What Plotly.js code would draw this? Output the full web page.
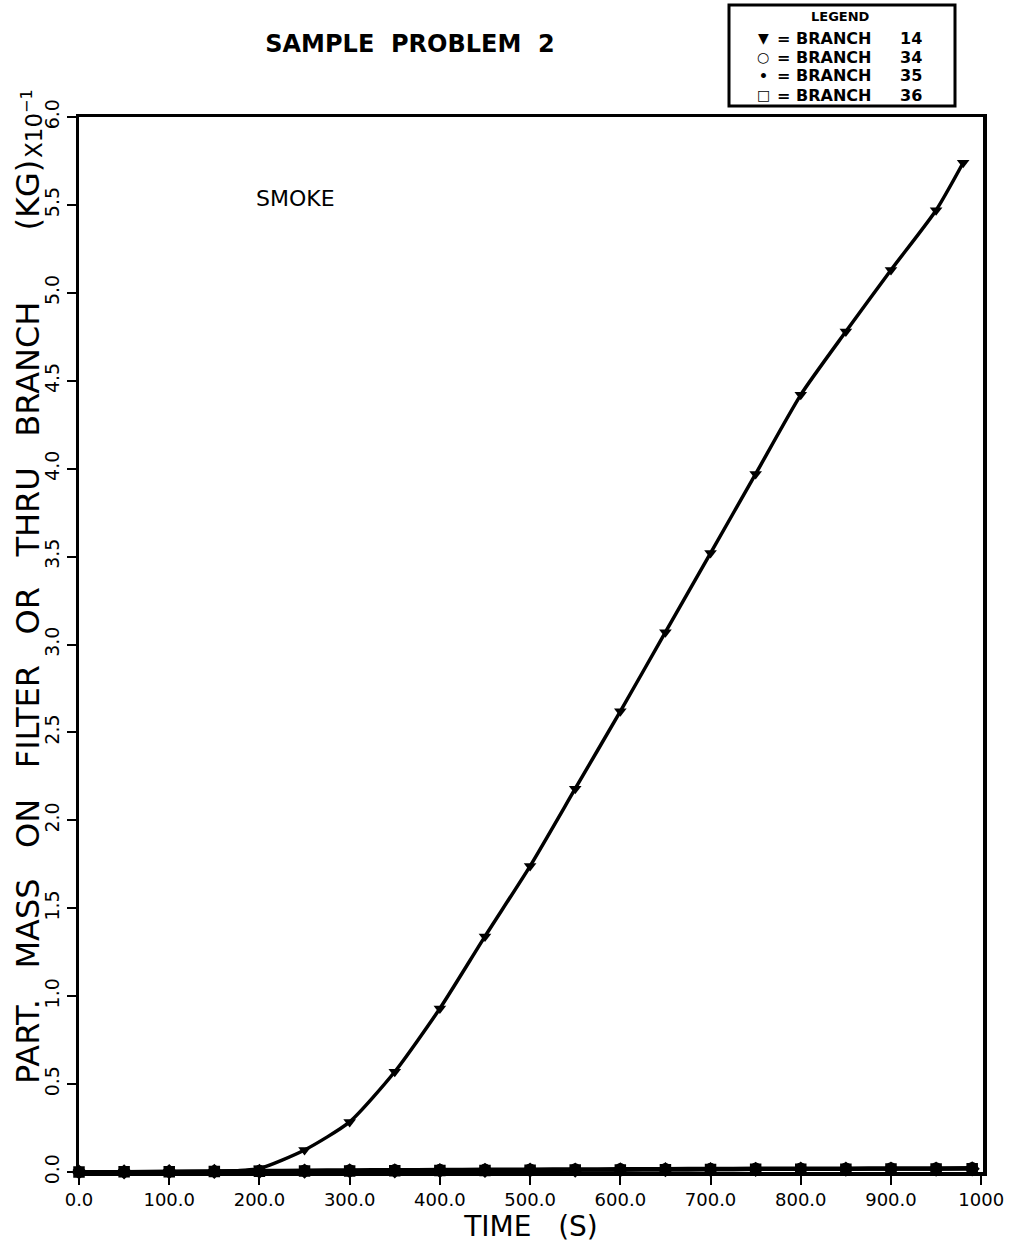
<!DOCTYPE html>
<html>
<head>
<meta charset="utf-8">
<script src="https://cdn.plot.ly/plotly-3.0.1.min.js"></script>
<style>html,body{margin:0;padding:0;background:#fff;}#chart{width:1014px;height:1243px;}</style>
</head>
<body>
<div id="chart"></div>
<script>
// Time (s) at which markers are plotted
var time14 = [0, 50, 100, 150, 200, 250, 300, 350, 400, 450, 500, 550, 600, 650, 700, 750, 800, 850, 900, 950, 980];
// Particulate mass (x10^-1 kg), branch 14
var mass14 = [0, 0, 0, 0, 0.02, 0.125, 0.285, 0.57, 0.93, 1.34, 1.74, 2.18, 2.62, 3.07, 3.52, 3.97, 4.42, 4.78, 5.13, 5.47, 5.74];

var timeLow = [0, 50, 100, 150, 200, 250, 300, 350, 400, 450, 500, 550, 600, 650, 700, 750, 800, 850, 900, 950, 990];
var mass34 = [0, 0.002, 0.004, 0.006, 0.008, 0.01, 0.012, 0.013, 0.014, 0.015, 0.016, 0.017, 0.018, 0.019, 0.02, 0.021, 0.022, 0.022, 0.023, 0.023, 0.024];
var mass35 = [0, 0.001, 0.002, 0.003, 0.004, 0.005, 0.006, 0.007, 0.008, 0.009, 0.01, 0.011, 0.012, 0.013, 0.014, 0.015, 0.016, 0.016, 0.017, 0.017, 0.018];
var mass36 = [0, 0.001, 0.002, 0.003, 0.004, 0.005, 0.006, 0.007, 0.008, 0.009, 0.01, 0.011, 0.012, 0.013, 0.014, 0.015, 0.016, 0.016, 0.017, 0.017, 0.018];

var xTickVals = [0, 100, 200, 300, 400, 500, 600, 700, 800, 900, 1000];
var xTickText = ["0.0", "100.0", "200.0", "300.0", "400.0", "500.0", "600.0", "700.0", "800.0", "900.0", "1000"];
var yTickVals = [0, 0.5, 1, 1.5, 2, 2.5, 3, 3.5, 4, 4.5, 5, 5.5, 6];
var yTickText = ["0.0", "0.5", "1.0", "1.5", "2.0", "2.5", "3.0", "3.5", "4.0", "4.5", "5.0", "5.5", "6.0"];

var legendSymbols = ["\u25BC", "\u25CB", "\u2022", "\u25A1"];
var legendBranches = ["14", "34", "35", "36"];

var FONT = "DejaVu Sans, Liberation Sans, sans-serif";
var ink = "#000";
var SP3 = "\u00A0\u00A0\u00A0";
var SP4 = "\u00A0\u00A0\u00A0\u00A0";
var yTitle = "PART." + SP3 + "MASS" + SP3 + "ON" + SP3 + "FILTER" + SP3 + "OR" + SP3 + "THRU" + SP3 + "BRANCH" + SP4 + SP3 + "(KG)";

function lowTrace(y, sym, name) {
  return {
    x: timeLow, y: y, type: "scatter", mode: "lines+markers", name: name,
    line: {color: ink, width: 3.5, shape: "spline", smoothing: 0.6},
    marker: {symbol: sym, size: 9, color: ink, line: {color: ink, width: 2.5}},
    cliponaxis: false, showlegend: false
  };
}

var traces = [
  lowTrace(mass36, "square-open", "BRANCH 36"),
  lowTrace(mass35, "diamond", "BRANCH 35"),
  lowTrace(mass34, "circle-open", "BRANCH 34"),
  {
    x: time14, y: mass14, type: "scatter", mode: "lines+markers", name: "BRANCH 14",
    line: {color: ink, width: 3.5, shape: "spline", smoothing: 0.6},
    marker: {symbol: "triangle-down", size: 11, color: ink},
    cliponaxis: false, showlegend: false
  }
];

var annotations = [
  {text: yTitle, xref: "paper", yref: "paper", x: (28 - 79) / 904, y: (1172 - 622) / 1055,
   xanchor: "center", yanchor: "middle", showarrow: false, textangle: -90, font: {family: FONT, size: 32, color: ink}},
  {text: "SMOKE", xref: "paper", yref: "paper", x: (295 - 79) / 904, y: (1172 - 198) / 1055,
   xanchor: "center", yanchor: "middle", showarrow: false, font: {family: FONT, size: 22, color: ink}},
  {text: "X10<sup>\u22121</sup>", xref: "paper", yref: "paper", x: (32 - 79) / 904, y: (1172 - 124) / 1055,
   xanchor: "center", yanchor: "middle", showarrow: false, textangle: -90, font: {family: FONT, size: 23, color: ink}},
  {text: "<b>LEGEND</b>", xref: "paper", yref: "paper", x: (840 - 79) / 904, y: (1172 - 16) / 1055,
   xanchor: "center", yanchor: "middle", showarrow: false, font: {family: FONT, size: 13, color: ink}}
];
var rowY = [38, 57, 76, 95];
for (var i = 0; i < legendBranches.length; i++) {
  annotations.push({text: "<b>" + legendSymbols[i] + "</b>", xref: "paper", yref: "paper", x: (763 - 79) / 904, y: (1172 - rowY[i]) / 1055,
    xanchor: "center", yanchor: "middle", showarrow: false, font: {family: FONT, size: 14, color: ink}});
  annotations.push({text: "<b>= BRANCH</b>", xref: "paper", yref: "paper", x: (775 - 79) / 904, y: (1172 - rowY[i]) / 1055,
    xanchor: "left", yanchor: "middle", showarrow: false, font: {family: FONT, size: 16, color: ink}});
  annotations.push({text: "<b>" + legendBranches[i] + "</b>", xref: "paper", yref: "paper", x: (911 - 79) / 904, y: (1172 - rowY[i]) / 1055,
    xanchor: "center", yanchor: "middle", showarrow: false, font: {family: FONT, size: 16, color: ink}});
}

var layout = {
  width: 1014, height: 1243,
  margin: {l: 79, r: 31, t: 117, b: 71, pad: 0},
  paper_bgcolor: "#fff", plot_bgcolor: "#fff",
  showlegend: false,
  title: {text: "SAMPLE\u00A0\u00A0PROBLEM\u00A0\u00A02", x: 410 / 1014, xanchor: "center", y: 1 - 44 / 1243, yanchor: "middle",
          font: {family: FONT, size: 24, color: ink, weight: "bold"}},
  xaxis: {
    range: [0, 1002], tickmode: "array", tickvals: xTickVals, ticktext: xTickText,
    ticks: "outside", ticklen: 9, tickwidth: 2, tickcolor: ink,
    showline: true, linewidth: 3.5, linecolor: ink, mirror: true, showgrid: false, zeroline: false,
    tickfont: {family: FONT, size: 18, color: ink},
    title: {text: "TIME\u00A0\u00A0\u00A0(S)", font: {family: FONT, size: 28, color: ink}, standoff: 4}
  },
  yaxis: {
    range: [0, 6], tickmode: "array", tickvals: yTickVals, ticktext: yTickText,
    ticks: "outside", ticklen: 9, tickwidth: 2, tickcolor: ink, tickangle: -90,
    showline: true, linewidth: 3.5, linecolor: ink, mirror: true, showgrid: false, zeroline: false,
    tickfont: {family: FONT, size: 19, color: ink}
  },
  shapes: [
    {type: "rect", xref: "paper", yref: "paper", x0: (729 - 79) / 904, x1: (955 - 79) / 904,
     y0: (1172 - 106) / 1055, y1: (1172 - 5) / 1055, line: {color: ink, width: 3}, fillcolor: "rgba(0,0,0,0)"}
  ],
  annotations: annotations
};

Plotly.newPlot("chart", traces, layout, {staticPlot: true, displayModeBar: false});
</script>
</body>
</html>
